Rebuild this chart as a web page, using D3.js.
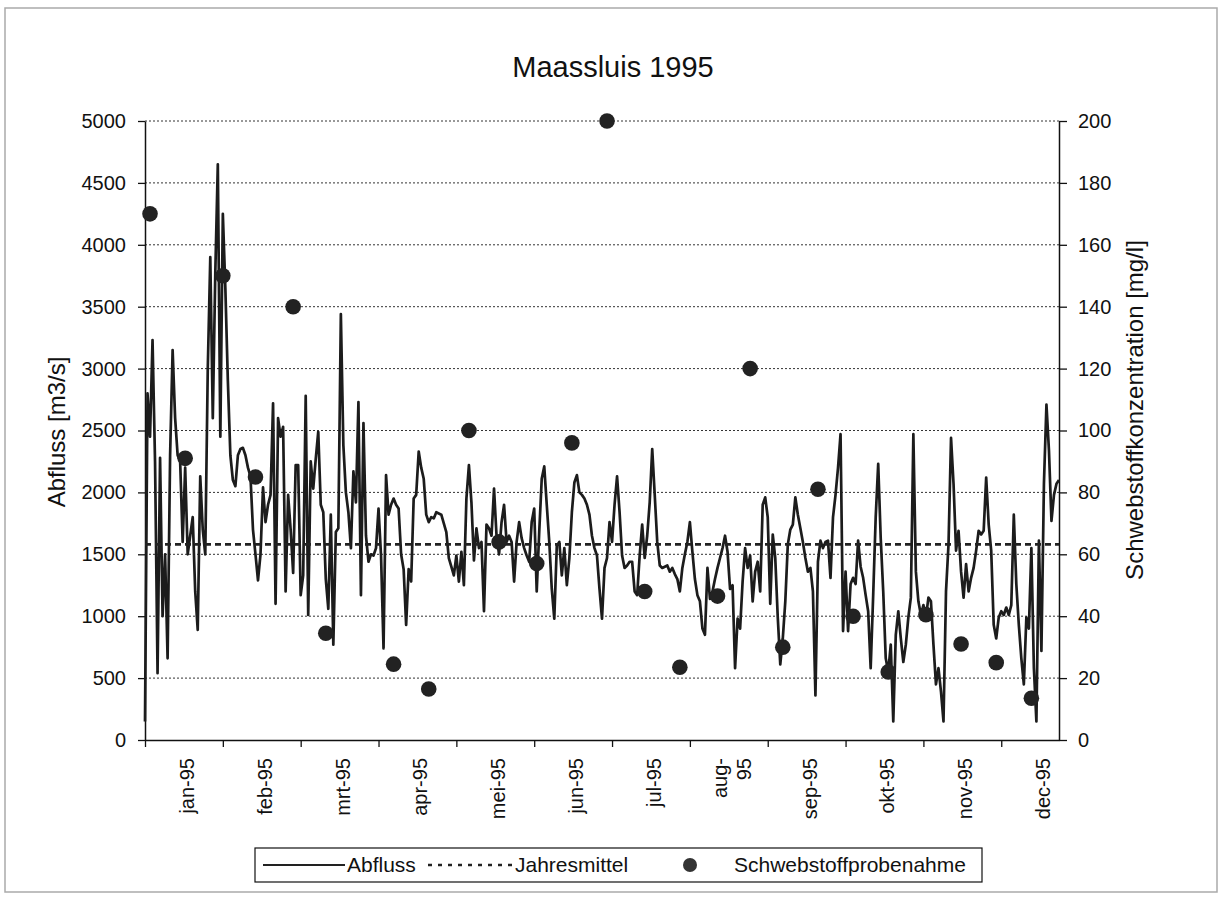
<!DOCTYPE html>
<html>
<head>
<meta charset="utf-8">
<script src="https://cdn.jsdelivr.net/npm/d3@7"></script>
<style>
body { margin: 0; background: #fff; }
text { font-family: "Liberation Sans", Arial, sans-serif; fill: #111; }
</style>
</head>
<body>
<script>
// Tagesabfluss Maassluis 1995 [m3/s], ein Wert pro Tag
var abfluss = [
   150, 2800, 2450, 3230, 2250, 540, 2280, 1000, 1500, 660,
   2300, 3150, 2600, 2300, 2250, 1600, 2200, 1500, 1650, 1800,
   1200, 890, 2130, 1700, 1500, 3000, 3900, 2600, 3780, 4650,
   2450, 4250, 3650, 2900, 2300, 2100, 2050, 2300, 2350, 2360,
   2300, 2200, 2130, 1700, 1500, 1290, 1500, 2040, 1760, 1900,
   1980, 2720, 1100, 2600, 2450, 2530, 1200, 1980, 1700, 1350,
   2220, 2220, 1170, 1330, 2780, 1010, 2250, 2030, 2270, 2490,
   1900, 1840, 1300, 1060, 1820, 770, 1680, 1710, 3440, 2380,
   2000, 1840, 1550, 2170, 1920, 2730, 1170, 2560, 1650, 1440,
   1500, 1490, 1550, 1870, 1490, 740, 2140, 1820, 1900, 1950,
   1900, 1870, 1500, 1380, 930, 1380, 1280, 1950, 1980, 2330,
   2200, 2110, 1820, 1760, 1800, 1790, 1840, 1830, 1820, 1750,
   1680, 1470, 1400, 1330, 1490, 1280, 1520, 1250, 1950, 2220,
   1920, 1450, 1710, 1550, 1600, 1040, 1740, 1710, 1650, 2030,
   1650, 1500, 1760, 1900, 1600, 1650, 1600, 1280, 1600, 1760,
   1630, 1550, 1490, 1440, 1760, 1870, 1200, 1680, 2110, 2210,
   1900, 1600, 1220, 980, 1570, 1600, 1330, 1550, 1250, 1470,
   1840, 2080, 2140, 2000, 1980, 1950, 1900, 1820, 1650, 1550,
   1490, 1220, 980, 1390, 1470, 1760, 1600, 1900, 2130, 1840,
   1490, 1390, 1410, 1440, 1440, 1200, 1170, 1490, 1740, 1470,
   1650, 1920, 2350, 1980, 1600, 1410, 1390, 1400, 1410, 1360,
   1390, 1340, 1300, 1200, 1390, 1500, 1600, 1760, 1520, 1300,
   1170, 1120, 900, 850, 1390, 1140, 1200, 1300, 1390, 1470,
   1550, 1650, 1520, 1220, 1250, 580, 980, 900, 1280, 1550,
   1390, 1490, 1120, 1360, 1440, 1200, 1900, 1960, 1800, 1100,
   1660, 1470, 990, 610, 820, 1120, 1580, 1700, 1740, 1960,
   1820, 1710, 1600, 1470, 1360, 1390, 1200, 360, 1440, 1610,
   1550, 1600, 1610, 1310, 1800, 1980, 2200, 2470, 880, 1360,
   880, 1260, 1310, 1260, 1610, 1400, 1310, 1170, 1040, 580,
   1170, 1800, 2230, 1630, 1200, 660, 550, 770, 150, 850,
   1040, 820, 630, 770, 990, 1150, 2470, 1360, 1120, 1010,
   1090, 990, 1150, 1120, 770, 450, 580, 390, 150, 1200,
   1580, 2440, 2070, 1530, 1690, 1360, 1150, 1420, 1200, 1310,
   1390, 1530, 1690, 1660, 1690, 2120, 1740, 1530, 930, 820,
   990, 1040, 1010, 1070, 1010, 1090, 1820, 1260, 930, 660,
   450, 990, 900, 1550, 580, 150, 1610, 720, 2070, 2710,
   2340, 1770, 1980, 2070, 2100
];

// Jahresmittel (Anfang und Ende des Jahres)
var mittelTage = [0, 364];
var mittelWerte = [1580, 1580];

// Schwebstoffprobenahmen: Tag im Jahr und Konzentration [mg/l]
var probeTage = [2, 16, 31, 44, 59, 72, 99, 113, 129, 141, 156, 170, 184,
   199, 213, 228, 241, 254, 268, 282, 296, 311, 325, 339, 353];
var probeWerte = [170, 91, 150, 85, 140, 34.5, 24.5, 16.5, 100, 64, 57, 96, 200,
   48, 23.5, 46.5, 120, 30, 81, 40, 22, 40.5, 31, 25, 13.5];

var monatTicks = [0, 31, 62, 93, 124, 155, 186, 217, 248, 279, 310, 341];
var monatLabels = ["jan-95", "feb-95", "mrt-95", "apr-95", "mei-95", "jun-95",
   "jul-95", "aug-95", "sep-95", "okt-95", "nov-95", "dec-95"];
var linksTicks = [0, 500, 1000, 1500, 2000, 2500, 3000, 3500, 4000, 4500, 5000];
var rechtsTicks = [0, 20, 40, 60, 80, 100, 120, 140, 160, 180, 200];
var legendLabels = ["Abfluss", "Jahresmittel", "Schwebstoffprobenahme"];

var plotLeft = 145, plotRight = 1059, plotTop = 121, plotBottom = 740;

var svg = d3.select("body")
   .append("svg")
   .attr("width", 1223)
   .attr("height", 901);

// Rahmen um die ganze Grafik
svg.append("rect")
   .attr("x", 5).attr("y", 8)
   .attr("width", 1212).attr("height", 884)
   .style("fill", "none")
   .style("stroke", "#aaa")
   .style("stroke-width", 1.5);

var x = d3.scaleLinear().domain([0, 364]).range([plotLeft, plotRight]);
var yL = d3.scaleLinear().domain([0, 5000]).range([plotBottom, plotTop]);
var yR = d3.scaleLinear().domain([0, 200]).range([plotBottom, plotTop]);

// Gitterlinien
svg.append("g")
   .selectAll("line")
   .data(linksTicks.slice(1))
   .enter()
   .append("line")
   .attr("x1", plotLeft)
   .attr("x2", plotRight)
   .attr("y1", function(d) { return yL(d) })
   .attr("y2", function(d) { return yL(d) })
   .style("stroke", "#333")
   .style("stroke-width", 1)
   .style("stroke-dasharray", "2,2");

// Achsen
var axL = svg.append("g")
   .attr("transform", "translate(" + plotLeft + ",0)")
   .call(d3.axisLeft(yL).tickValues(linksTicks).tickFormat(d3.format("d"))
      .tickSize(7).tickSizeOuter(0).tickPadding(12));

var axR = svg.append("g")
   .attr("transform", "translate(" + plotRight + ",0)")
   .call(d3.axisRight(yR).tickValues(rechtsTicks).tickFormat(d3.format("d"))
      .tickSize(8).tickSizeOuter(0).tickPadding(11));

var axB = svg.append("g")
   .attr("transform", "translate(0," + plotBottom + ")")
   .call(d3.axisBottom(x).tickValues(monatTicks).tickSize(7).tickSizeOuter(0).tickFormat(""));

[axL, axR, axB].forEach(function(ax) {
   ax.select(".domain").style("stroke", "#111").style("stroke-width", 1.5);
   ax.selectAll(".tick line").style("stroke", "#111").style("stroke-width", 1.3);
   ax.selectAll(".tick text")
      .style("font-family", "'Liberation Sans', Arial, sans-serif")
      .style("font-size", "20px")
      .style("fill", "#111");
});

// Monatsbeschriftungen, senkrecht, in der Mitte zwischen den Strichen
var mLabels = svg.append("g")
   .selectAll("text")
   .data(monatLabels)
   .enter()
   .append("text")
   .attr("transform", function(d, i) {
      return "translate(" + (x(monatTicks[i] + 15.5) + 10) + ",758) rotate(-90)"
   })
   .attr("text-anchor", "end")
   .style("font-size", "20px");

mLabels.each(function(d) {
   var t = d3.select(this);
   if (d == "aug-95") {
      t.attr("transform", "translate(" + (x(217 + 15.5) - 2) + ",758) rotate(-90)");
      t.append("tspan").attr("x", 0).attr("y", 0).text("aug-");
      t.append("tspan").attr("x", 0).attr("y", 24).text("95");
   } else {
      t.text(d);
   }
});

// Abfluss
var linie = d3.line()
   .x(function(d, i) { return x(i) })
   .y(function(d) { return yL(d) });

svg.append("path")
   .datum(abfluss)
   .attr("d", linie)
   .style("fill", "none")
   .style("stroke", "#1c1c1c")
   .style("stroke-width", 2.7)
   .style("stroke-linejoin", "round");

// Jahresmittel
svg.append("path")
   .datum(mittelWerte)
   .attr("d", d3.line()
      .x(function(d, i) { return x(mittelTage[i]) })
      .y(function(d) { return yL(d) }))
   .style("fill", "none")
   .style("stroke", "#222")
   .style("stroke-width", 2.6)
   .style("stroke-dasharray", "6,4");

// Schwebstoffprobenahme
svg.append("g")
   .selectAll("circle")
   .data(probeWerte)
   .enter()
   .append("circle")
   .attr("cx", function(d, i) { return x(probeTage[i]) })
   .attr("cy", function(d) { return yR(d) })
   .attr("r", 7.8)
   .style("fill", "#222");

// Titel und Achsentitel
svg.append("text")
   .attr("x", 613).attr("y", 77)
   .attr("text-anchor", "middle")
   .style("font-size", "29px")
   .text("Maassluis 1995");

svg.append("text")
   .attr("transform", "translate(65,432) rotate(-90)")
   .attr("text-anchor", "middle")
   .style("font-size", "24px")
   .text("Abfluss [m3/s]");

svg.append("text")
   .attr("transform", "translate(1143,410) rotate(-90)")
   .attr("text-anchor", "middle")
   .style("font-size", "24px")
   .text("Schwebstoffkonzentration [mg/l]");

// Legende
var lg = svg.append("g");
lg.append("rect")
   .attr("x", 255).attr("y", 848)
   .attr("width", 727).attr("height", 34)
   .style("fill", "#fff")
   .style("stroke", "#111")
   .style("stroke-width", 1.2);

lg.append("line")
   .attr("x1", 263).attr("x2", 345).attr("y1", 865).attr("y2", 865)
   .style("stroke", "#222").style("stroke-width", 2);

lg.append("line")
   .attr("x1", 428).attr("x2", 512).attr("y1", 865).attr("y2", 865)
   .style("stroke", "#222").style("stroke-width", 2.5)
   .style("stroke-dasharray", "4,6");

lg.append("circle")
   .attr("cx", 690).attr("cy", 865).attr("r", 7)
   .style("fill", "#333");

var legendX = [347, 515, 734];
lg.selectAll("text")
   .data(legendLabels)
   .enter()
   .append("text")
   .attr("x", function(d, i) { return legendX[i] })
   .attr("y", 872)
   .style("font-size", "21px")
   .text(function(d) { return d });
</script>
</body>
</html>
